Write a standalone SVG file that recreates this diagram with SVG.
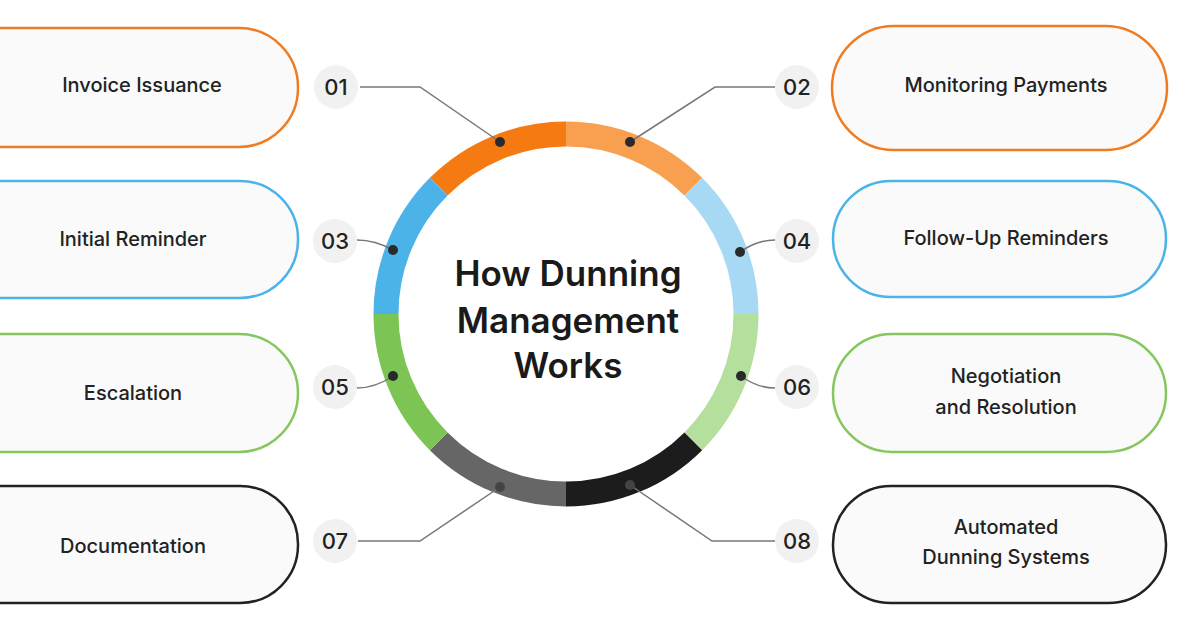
<svg xmlns="http://www.w3.org/2000/svg" width="1196" height="628" viewBox="0 0 1196 628">
<style>
.box{fill:#fafafa;stroke-width:2.5}
.lbl{font-family:Inter,"Noto Sans",sans-serif;font-size:20px;fill:#222;text-anchor:middle;font-weight:500}
.num{font-family:Inter,"Noto Sans",sans-serif;font-size:22px;fill:#222;text-anchor:middle;font-weight:500}
.badge{fill:#f1f1f1}
.seg{fill:none;stroke-width:25}
.con{fill:none;stroke:#777;stroke-width:1.5}
.dot{fill:#2a2a2a}
.title{font-family:Inter,"Noto Sans",sans-serif;font-size:35px;font-weight:600;fill:#1a1a1a;text-anchor:middle}
</style>
<rect width="1196" height="628" fill="#fff"/>
<g id="ring">
<path class="seg" stroke="#f57a12" d="M438.7,186.7 A180,180 0 0 1 566,134"/>
<path class="seg" stroke="#f8a050" d="M566,134 A180,180 0 0 1 693.3,186.7"/>
<path class="seg" stroke="#a7d9f4" d="M693.3,186.7 A180,180 0 0 1 746,314"/>
<path class="seg" stroke="#b4df9c" d="M746,314 A180,180 0 0 1 693.3,441.3"/>
<path class="seg" stroke="#1c1c1c" d="M693.3,441.3 A180,180 0 0 1 566,494"/>
<path class="seg" stroke="#666" d="M566,494 A180,180 0 0 1 438.7,441.3"/>
<path class="seg" stroke="#7cc453" d="M438.7,441.3 A180,180 0 0 1 386,314"/>
<path class="seg" stroke="#4cb3e8" d="M386,314 A180,180 0 0 1 438.7,186.7"/>
<text class="title" x="568" y="286">How Dunning</text>
<text class="title" x="568" y="333">Management</text>
<text class="title" x="568" y="378">Works</text>
</g>
<g id="connectors">
<path class="con" d="M360,87 H420 L500,142"/>
<path class="con" d="M775,87 H715 L630,142"/>
<path class="con" d="M357,240 Q375,240 393,250"/>
<path class="con" d="M775,240 Q757,240 740,252"/>
<path class="con" d="M357,388 Q375,388 393,376"/>
<path class="con" d="M775,388 Q757,388 741,376"/>
<path class="con" d="M358,541 H420 L500,487"/>
<path class="con" d="M775,541 H712 L630,485"/>
<circle class="dot" cx="500" cy="142" r="5"/><circle class="dot" cx="630" cy="142" r="5"/>
<circle class="dot" cx="393" cy="250" r="5"/><circle class="dot" cx="740" cy="252" r="5"/>
<circle class="dot" cx="393" cy="376" r="5"/><circle class="dot" cx="741" cy="376" r="5"/>
<circle cx="500" cy="487" r="5" fill="#444"/><circle cx="630" cy="485" r="5" fill="#444"/>
</g>
<g id="badges">
<circle class="badge" cx="336" cy="87" r="22"/><text class="num" x="336" y="95">01</text>
<circle class="badge" cx="797" cy="87" r="22"/><text class="num" x="797" y="95">02</text>
<circle class="badge" cx="335" cy="241" r="22"/><text class="num" x="335" y="249">03</text>
<circle class="badge" cx="797" cy="241" r="22"/><text class="num" x="797" y="249">04</text>
<circle class="badge" cx="335" cy="387" r="22"/><text class="num" x="335" y="395">05</text>
<circle class="badge" cx="797" cy="387" r="22"/><text class="num" x="797" y="395">06</text>
<circle class="badge" cx="335" cy="541" r="22"/><text class="num" x="335" y="549">07</text>
<circle class="badge" cx="797" cy="541" r="22"/><text class="num" x="797" y="549">08</text>
</g>
<g id="n1"><rect class="box" stroke="#f07c22" x="-60" y="28" width="358" height="119" rx="59"/><text class="lbl" x="142" y="92">Invoice Issuance</text></g>
<g id="n3"><rect class="box" stroke="#4cb3e8" x="-60" y="181" width="358" height="117" rx="58"/><text class="lbl" x="133" y="246">Initial Reminder</text></g>
<g id="n5"><rect class="box" stroke="#84c75e" x="-60" y="334" width="358" height="118" rx="59"/><text class="lbl" x="133" y="400">Escalation</text></g>
<g id="n7"><rect class="box" stroke="#222" x="-60" y="486" width="358" height="117" rx="58"/><text class="lbl" x="133" y="553">Documentation</text></g>
<g id="n2"><rect class="box" stroke="#f07c22" x="832" y="26" width="335" height="124" rx="62"/><text class="lbl" x="1006" y="92">Monitoring Payments</text></g>
<g id="n4"><rect class="box" stroke="#4cb3e8" x="833" y="181" width="333" height="116" rx="58"/><text class="lbl" x="1006" y="245">Follow-Up Reminders</text></g>
<g id="n6"><rect class="box" stroke="#84c75e" x="833" y="334" width="333" height="118" rx="59"/><text class="lbl" x="1006" y="383">Negotiation</text><text class="lbl" x="1006" y="414">and Resolution</text></g>
<g id="n8"><rect class="box" stroke="#222" x="833" y="486" width="333" height="117" rx="58"/><text class="lbl" x="1006" y="534">Automated</text><text class="lbl" x="1006" y="564">Dunning Systems</text></g>
</svg>
